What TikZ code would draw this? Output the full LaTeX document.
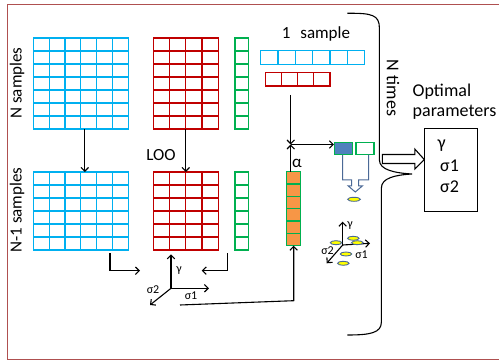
\documentclass[tikz,border=0pt]{standalone}
\usepackage{fontspec}
\setmainfont{Carlito}
\usetikzlibrary{calc,arrows.meta,shapes.geometric}
\definecolor{cyanL}{RGB}{0,176,240}
\definecolor{redD}{RGB}{192,0,0}
\definecolor{greenO}{RGB}{0,176,80}
\definecolor{orangeO}{RGB}{247,150,70}
\definecolor{blueO}{RGB}{79,129,189}
\definecolor{steelC}{RGB}{75,105,150}
\definecolor{frameC}{RGB}{175,80,80}
\definecolor{ellY}{RGB}{255,255,0}
\tikzset{
  gridline/.style={line width=1.2pt},
  conn/.style={line width=1.1pt, -{Straight Barb[length=3.8pt,width=7.5pt]}},
  bigtxt/.style={font=\fontsize{17}{21}\selectfont, inner sep=0pt},
  rtxt/.style={font=\fontsize{18}{21}\selectfont, inner sep=0pt},
  smalltxt/.style={font=\fontsize{12}{14}\selectfont, inner sep=0pt},
  blob/.style={ellipse, draw=steelC, fill=ellY, line width=0.9pt, minimum width=11.5pt, minimum height=4pt, inner sep=0pt},
}
\newcommand\cellgrid[9]{%
  \node[draw=#8, fill=#9, gridline, minimum width=#4pt, minimum height=#5pt, inner sep=0pt, outer sep=0pt, anchor=north west] (#1) at (#2,#3) {};
  \pgfmathtruncatemacro\cellnc{#6-1}%
  \pgfmathtruncatemacro\cellnr{#7-1}%
  \ifnum\cellnc>0 \foreach \i in {1,...,\cellnc}{\draw[draw=#8, gridline] ($(#1.north west)!\i/#6!(#1.north east)$) -- ($(#1.south west)!\i/#6!(#1.south east)$);}\fi
  \ifnum\cellnr>0 \foreach \i in {1,...,\cellnr}{\draw[draw=#8, gridline] ($(#1.north west)!\i/#7!(#1.south west)$) -- ($(#1.north east)!\i/#7!(#1.south east)$);}\fi
}
\begin{document}
\begin{tikzpicture}[x=1pt,y=-1pt]
\useasboundingbox (0,0) rectangle (499,361);
% frame
\draw[frameC, line width=1.5pt] (499,4.5) -- (7.5,4.5) -- (7.5,359.5) -- (499,359.5);
% grids
\cellgrid{btop}{33.3}{38}{95}{91}{6}{7}{cyanL}{none}
\cellgrid{rtop}{153.3}{38}{65}{91}{4}{7}{redD}{none}
\cellgrid{gtop}{235}{38}{13.3}{91}{1}{7}{greenO}{none}
\cellgrid{bbot}{33.3}{172}{95}{78}{6}{6}{cyanL}{none}
\cellgrid{rbot}{153.3}{172}{65}{78}{4}{6}{redD}{none}
\cellgrid{gbot}{235}{172}{13.3}{78}{1}{6}{greenO}{none}
\cellgrid{brow}{260.7}{50.7}{104}{14}{6}{1}{cyanL}{none}
\cellgrid{rrow}{265.3}{72.7}{64.7}{13.3}{4}{1}{redD}{none}
\cellgrid{ocol}{286.7}{171.7}{14}{74}{1}{6}{greenO}{orangeO}
% labels
\node[bigtxt, rotate=90] (nsamp) at (17,83) {N samples};
\node[bigtxt, rotate=90] (n1samp) at (17,210) {N-1 samples};
\node[bigtxt] (loo) at (161,155) {LOO};
\node[bigtxt] (onesamp) at (316,34) {1\hspace{0.35em} sample};
\node[rtxt, rotate=-90] (ntimes) at (393,88) {N times};
\node[rtxt, anchor=base west] (optp1) at (412.5,96.7) {Optimal};
\node[rtxt, anchor=base west] (optp2) at (412.5,116.7) {parameters};
% down arrows
\draw[conn] ([xshift=4pt]btop.south) -- ([xshift=4pt]bbot.north);
\draw[conn] (rtop.south) -- (rbot.north);
% arrows to axes
\coordinate (a1) at (140,270.7);
\coordinate (a2) at (201.7,270.7);
\draw[conn] ([xshift=-18.3pt,yshift=-3pt]bbot.south east) |- (a1);
\draw[conn] ([xshift=-14pt,yshift=-3pt]gbot.south) |- (a2);
% axes 1
\coordinate (o1) at (171,288.3);
\coordinate (g1) at (171,254.3);
\coordinate (s11) at (209,288.3);
\coordinate (s21) at (150,305);
\draw[conn] (o1) -- (g1);
\draw[conn] (o1) -- (s11);
\draw[conn] (o1) -- (s21);
\node[smalltxt] (lg1) at (179,271) {γ};
\node[smalltxt] (ls11) at (191,295.5) {σ1};
\node[smalltxt] (ls21) at (153,289.5) {σ2};
% long line to orange column
\coordinate (lstart) at (180,305);
\coordinate (lturn) at (293.7,300.7);
\draw[conn] (lstart) -- (lturn) -- (ocol.south);
% cross point
\coordinate (cross) at (290.7,144.5);
\draw[conn] ([yshift=-9pt]rrow.south -| cross) -- (cross);
\draw[conn] (ocol.north -| cross) -- (cross);
\node[bigtxt] (alpha) at (297,163.5) {α};
% squares
\node[draw=greenO, fill=blueO, gridline, minimum width=17.7pt, minimum height=12.3pt, inner sep=0pt, anchor=north west] (bsq) at (334,141.7) {};
\node[draw=greenO, fill=white, gridline, minimum width=18pt, minimum height=12.3pt, inner sep=0pt, anchor=north west] (wsq) at (355.3,141.7) {};
\draw[conn] (cross) -- (cross -| bsq.west);
% small block down arrow
\draw[steelC, line width=1pt] (342.7,154.6) -- (342.7,180) -- (351.7,180) -- (351.7,186) -- (348.3,186) -- (355.3,192) -- (362.3,186) -- (358.7,186) -- (358.7,180) -- (368.7,180) -- (368.7,154.6);
\node[blob, minimum width=12.7pt] (e0) at (354,199.3) {};
% axes 2
\coordinate (o2) at (342.7,245);
\coordinate (g2) at (342.7,221.7);
\coordinate (s12) at (370,243.3);
\coordinate (s22) at (326.7,263.3);
\draw[conn] (o2) -- (g2);
\draw[conn] (o2) -- (s12);
\draw[conn] (o2) -- (s22);
\node[smalltxt] (lg2) at (350,226) {γ};
\node[smalltxt] (ls12) at (361.5,255) {σ1};
\node[smalltxt] (ls22) at (327.5,251) {σ2};
\node[blob] (e1) at (336,242.7) {};
\node[blob] (e2) at (353.3,238.3) {};
\node[blob] (e3) at (357.3,242.7) {};
\node[blob] (e4) at (346,254) {};
\node[blob] (e5) at (343.3,263.3) {};
% brace
\draw[line width=1.1pt] (347.3,13.3) .. controls (372,13) and (379.4,15) .. (379.4,28) -- (379.4,160) .. controls (379.4,170) and (395,173) .. (412,174) .. controls (395,175) and (381.4,178) .. (381.4,188) -- (381.4,322) .. controls (381.4,333) and (370,335) .. (347.3,335);
% result box
\node[draw, line width=1.1pt, minimum width=52.4pt, minimum height=82.4pt, inner sep=0pt, anchor=north west] (res) at (424.3,128.3) {};
\node[rtxt, anchor=west] (rg) at (437.5,145.7) {γ};
\node[rtxt, anchor=west] (rs1) at (440,166) {σ1};
\node[rtxt, anchor=west] (rs2) at (440,187) {σ2};
% big block arrow
\coordinate (tip) at ([yshift=10.5pt]res.west);
\draw[line width=1.1pt, fill=white] (tip) -- ++(-9.5,-10.5) -- ++(0,5.5) -- ++(-32.5,0) -- ++(0,9) -- ++(32.5,0) -- ++(0,5.5) -- cycle;
\end{tikzpicture}
\end{document}
